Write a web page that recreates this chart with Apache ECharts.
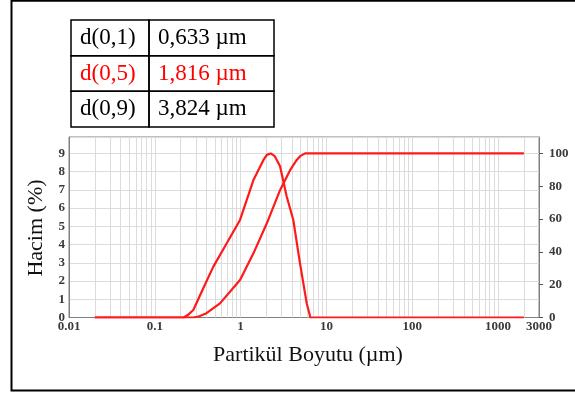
<!DOCTYPE html>
<html>
<head>
<meta charset="utf-8">
<script src="https://cdn.jsdelivr.net/npm/echarts@6/dist/echarts.min.js"></script>
<style>html,body{margin:0;padding:0;background:#fff}#c{width:575px;height:394px}</style>
</head>
<body>
<div id="c"></div>
<script>
// ---- data ----
var xTickLabels = [0.01, 0.1, 1, 10, 100, 1000, 3000];
var leftTicks = [0, 1, 2, 3, 4, 5, 6, 7, 8, 9];
var rightTicks = [0, 20, 40, 60, 80, 100];
var gridXValues = [0.02,0.03,0.04,0.05,0.06,0.07,0.08,0.09,0.1,
  0.2,0.3,0.4,0.5,0.6,0.7,0.8,0.9,1,
  2,3,4,5,6,7,8,9,10,
  20,30,40,50,60,70,80,90,100,
  200,300,400,500,600,700,800,900,1000,2000];
// frequency (Hacim %) curve
var freqSizes  = [0.02, 0.215, 0.24, 0.281, 0.367, 0.481, 0.689, 0.984, 1.41, 1.84, 2.02, 2.24, 2.5,  2.88, 3.45, 4.11, 4.92, 5.89, 6.5,  2000];
var freqValues = [0,    0,     0.12, 0.41,  1.6,   2.79,  4.07,  5.35,  7.54, 8.63, 8.92, 9.0,  8.85, 8.3,  6.62, 5.35, 2.97, 0.78, 0,    0];
// cumulative curve (right axis)
var cumSizes  = [0.02, 0.28, 0.33, 0.40, 0.575, 0.984, 1.41, 2.02, 2.88, 3.77, 4.51, 5.0,  5.64, 2000];
var cumValues = [0,    0,    0.7,  2.6,  8.6,   22.8,  39.1, 57.4, 77.6, 89.8, 96,   98.5, 100,  100];
// table
var tableLabels = ['d(0,1)', 'd(0,5)', 'd(0,9)'];
var tableValues = ['0,633 µm', '1,816 µm', '3,824 µm'];
var tableColors = ['#000', '#ff0000', '#000'];

function pairs(xs, ys) { return xs.map(function (x, i) { return [x, ys[i]]; }); }
function fmt(v) { return String(+(+v).toPrecision(6)); }

var chart = echarts.init(document.getElementById('c'), null, {renderer: 'canvas'});

var graphics = [];
// outer frame (top, left, bottom; right side lies outside the picture)
graphics.push({type: 'polyline', shape: {points: [[700, 0.8], [11.5, 0.8], [11.5, 390.5], [700, 390.5]]},
  style: {fill: 'none', stroke: '#000', lineWidth: 2}, silent: true});
// table
var tx0 = 71, tx1 = 149, tx2 = 274, ty = [20, 55.7, 91.3, 127];
for (var r = 0; r < 3; r++) {
  graphics.push({type: 'rect', shape: {x: tx0, y: ty[r], width: tx1 - tx0, height: ty[r+1] - ty[r]},
    style: {fill: 'none', stroke: '#000', lineWidth: 1.5}, silent: true});
  graphics.push({type: 'rect', shape: {x: tx1, y: ty[r], width: tx2 - tx1, height: ty[r+1] - ty[r]},
    style: {fill: 'none', stroke: '#000', lineWidth: 1.5}, silent: true});
  var cy = (ty[r] + ty[r+1]) / 2;
  graphics.push({type: 'text', x: 80, y: cy, style: {text: tableLabels[r], fill: tableColors[r],
    font: '23px "Liberation Serif"', textAlign: 'left', textVerticalAlign: 'middle'}, silent: true});
  graphics.push({type: 'text', x: 158, y: cy, style: {text: tableValues[r], fill: tableColors[r],
    font: '23px "Liberation Serif"', textAlign: 'left', textVerticalAlign: 'middle'}, silent: true});
}
// axis titles
graphics.push({type: 'text', x: 36, y: 228, rotation: Math.PI / 2,
  style: {text: 'Hacim (%)', fill: '#111', font: '22px "Liberation Serif"', textAlign: 'center', textVerticalAlign: 'middle'}, silent: true});
graphics.push({type: 'text', x: 308, y: 355,
  style: {text: 'Partikül Boyutu (µm)', fill: '#111', font: '22px "Liberation Serif"', textAlign: 'center', textVerticalAlign: 'middle'}, silent: true});

var labelFont = {fontFamily: 'Liberation Serif', fontWeight: 'bold', fontSize: 13, color: '#3a3a3a'};

chart.setOption({
  animation: false,
  backgroundColor: '#fff',
  grid: {left: 69, right: 36, top: 137, bottom: 76.5, show: true, borderColor: '#808080', borderWidth: 1, containLabel: false},
  xAxis: {
    type: 'log', logBase: 10, min: 0.01, max: 3000,
    axisLine: {show: true, lineStyle: {color: '#808080'}},
    axisTick: {show: false},
    splitLine: {show: false},
    axisLabel: Object.assign({customValues: xTickLabels, margin: 3, formatter: fmt}, labelFont)
  },
  yAxis: [{
    type: 'value', min: 0, max: 9.9, interval: 1, position: 'left',
    axisLine: {show: true, lineStyle: {color: '#808080'}},
    axisTick: {show: false},
    splitLine: {show: true, lineStyle: {color: '#dcdcdc', width: 1}},
    axisLabel: Object.assign({customValues: leftTicks, margin: 4,
      formatter: function (v) { return (Math.abs(v - Math.round(v)) < 1e-9) ? String(Math.round(v)) : ''; }}, labelFont)
  }, {
    type: 'value', min: 0, max: 110, interval: 20, position: 'right',
    axisLine: {show: true, lineStyle: {color: '#808080'}},
    axisTick: {show: true, inside: false, length: 4, customValues: rightTicks, lineStyle: {color: '#555'}},
    splitLine: {show: false},
    axisLabel: Object.assign({customValues: rightTicks, margin: 10,
      formatter: function (v) { return v > 100 ? '' : String(v); }}, labelFont)
  }],
  series: [{
    name: 'grid', type: 'line', data: [[0.01, 0]], symbol: 'none', z: 1,
    lineStyle: {opacity: 0}, silent: true,
    markLine: {silent: true, symbol: 'none', label: {show: false},
      lineStyle: {color: '#dcdcdc', width: 1, type: 'solid'},
      data: gridXValues.map(function (v) { return {xAxis: v}; })}
  }, {
    name: 'Hacim', type: 'line', yAxisIndex: 0, z: 5,
    data: pairs(freqSizes, freqValues),
    symbol: 'none', smooth: false,
    lineStyle: {color: '#ff1a1a', width: 2.2}
  }, {
    name: 'Kümülatif', type: 'line', yAxisIndex: 1, z: 5,
    data: pairs(cumSizes, cumValues),
    symbol: 'none', smooth: false,
    lineStyle: {color: '#ff1a1a', width: 2.2}
  }],
  graphic: graphics
});
</script>
</body>
</html>
